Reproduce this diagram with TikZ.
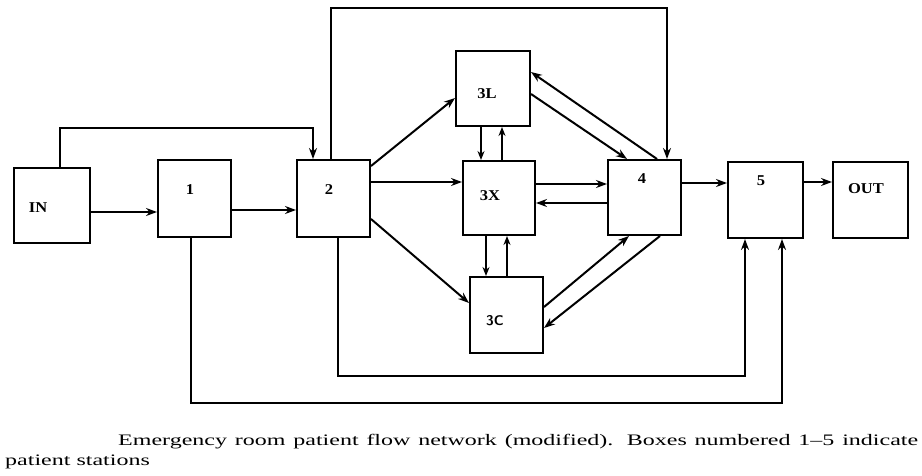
\documentclass[tikz,border=0pt]{standalone}
\usepackage{fontspec}
\setmainfont{Liberation Serif}
\newfontfamily\widefont{Liberation Serif}[FakeStretch=1.5,Ligatures=TeX]
\newfontfamily\widelabel{Liberation Serif}[FakeStretch=1.1,Ligatures=TeX]
\usetikzlibrary{arrows.meta}
\begin{document}
\begin{tikzpicture}[x=1pt,y=-1pt,
  stn/.style={draw, line width=2pt, inner sep=0pt, minimum width=#1},
  lbl/.style={inner sep=0pt, font=\fontsize{15}{17}\selectfont\widelabel\bfseries},
  wire/.style={line width=2pt},
  arr/.style={wire, -{Stealth[length=11pt,width=8pt]}},
  sarr/.style={line width=1.5pt, -{Stealth[length=9pt,width=7pt]}},
  captext/.style={inner sep=0pt, anchor=base west, font=\fontsize{16}{20}\selectfont\widefont}]
\useasboundingbox (0,0) rectangle (922,476);

% stations
\node[stn=76pt, minimum height=75pt] (in)  at (52,205.5)  {};
\node[stn=73pt, minimum height=77pt] (b1)  at (194.5,198.5) {};
\node[stn=73pt, minimum height=77pt] (b2)  at (333.5,198.5) {};
\node[stn=74pt, minimum height=75pt] (b3l) at (493,88.5)  {};
\node[stn=72pt, minimum height=74pt] (b3x) at (499,198)   {};
\node[stn=73pt, minimum height=76pt] (b3c) at (506.5,315) {};
\node[stn=73pt, minimum height=75pt] (b4)  at (644.5,197.5) {};
\node[stn=75pt, minimum height=76pt] (b5)  at (765.5,200) {};
\node[stn=75pt, minimum height=76pt] (out) at (870.5,200) {};

% station labels
\node[lbl] (tin)  at (38,208)  {IN};
\node[lbl] (t1)   at (190,190) {1};
\node[lbl] (t2)   at (329,190) {2};
\node[lbl] (t3l)  at (487,94)  {3L};
\node[lbl] (t3x)  at (490,196) {3X};
\node[lbl, font=\fontsize{14}{16}\selectfont\sffamily\bfseries] (t3c) at (495,321) {3C};
\node[lbl] (t4)   at (642,179) {4};
\node[lbl] (t5)   at (761,181) {5};
\node[lbl] (tout) at (866,189) {OUT};

% main line
\draw[arr] (in.east |- 0,212) -- (b1.west |- 0,212);
\draw[arr] (b1.east |- 0,210) -- (b2.west |- 0,210);
\draw[arr] (b4.east |- 0,183) -- (b5.west |- 0,183);
\draw[arr] (b5.east |- 0,182) -- (out.west |- 0,182);

% bypass loops over the top
\draw[arr] (in.north -| 60,0) -- (60,128) -| (b2.north -| 313,0);
\draw[arr] (b2.north -| 331,0) -- (331,8) -| (b4.north -| 667,0);

% from 2 into the three 3-stations
\draw[arr] (b2.east |- 0,166) -- (b3l.west |- 0,98);
\draw[arr] (b2.east |- 0,182) -- (b3x.west |- 0,182);
\draw[arr] (b2.east |- 0,219) -- (b3c.west |- 0,303);

% exchanges between 3L, 3X and 3C
\draw[sarr] (b3l.south -| 481,0) -- (b3x.north -| 481,0);
\draw[sarr] (b3x.north -| 502,0) -- (b3l.south -| 502,0);
\draw[sarr] (b3x.south -| 486,0) -- (b3c.north -| 486,0);
\draw[sarr] (b3c.north -| 507,0) -- (b3x.south -| 507,0);

% exchanges with 4
\draw[arr] (b3x.east |- 0,184) -- (b4.west |- 0,184);
\draw[arr] (b4.west |- 0,203) -- (b3x.east |- 0,203);
\draw[arr] (b3l.east |- 0,94) -- (b4.north -| 627,0);
\draw[arr] (b4.north -| 657,0) -- (b3l.east |- 0,72);
\draw[arr] (b3c.east |- 0,307) -- (b4.south -| 629,0);
\draw[arr] (b4.south -| 660,0) -- (b3c.east |- 0,328);

% returns to 5 along the bottom
\draw[arr] (b2.south -| 338,0) -- (338,376) -| (b5.south -| 745,0);
\draw[arr] (b1.south -| 191,0) -- (191,403) -| (b5.south -| 782,0);

% caption
\node[captext] (cap1) at (118,445) {\makebox[800pt][s]{Emergency room patient flow network (modified). Boxes numbered 1--5 indicate}};
\node[captext] (cap2) at (5,465) {patient stations};
\end{tikzpicture}
\end{document}
